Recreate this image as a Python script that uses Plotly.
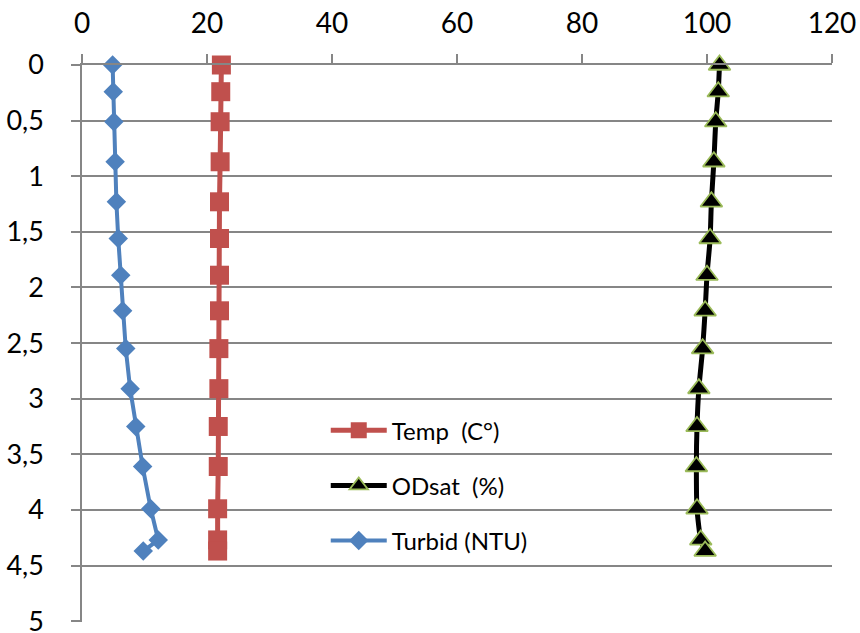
import plotly.graph_objects as go

depth = [0, 0.24, 0.51, 0.87, 1.23, 1.56, 1.89, 2.21, 2.55, 2.91, 3.25, 3.61, 3.99, 4.27, 4.37]
temp = [22.3, 22.2, 22.1, 22.1, 22.0, 22.0, 22.0, 22.0, 21.9, 21.9, 21.8, 21.8, 21.7, 21.7, 21.7]
odsat = [102.0, 101.8, 101.4, 101.1, 100.7, 100.5, 100.0, 99.7, 99.3, 98.7, 98.4, 98.3, 98.4, 99.0, 99.7]
turbid = [4.9, 5.0, 5.1, 5.3, 5.5, 5.8, 6.2, 6.5, 7.0, 7.7, 8.6, 9.7, 11.0, 12.2, 9.8]

names = ["Temp\u00a0 (C°)", "ODsat\u00a0 (%)", "Turbid (NTU)"]
y_tickvals = [0, 0.5, 1, 1.5, 2, 2.5, 3, 3.5, 4, 4.5, 5]
y_ticktext = ["0", "0,5", "1", "1,5", "2", "2,5", "3", "3,5", "4", "4,5", "5"]
x_tickvals = [0, 20, 40, 60, 80, 100, 120]

RED = "#C0504D"
BLUE = "#4F81BD"
GREEN = "#9BBB59"
GRID = "#868686"
FONT = "Lato, Open Sans, sans-serif"

fig = go.Figure()
fig.add_trace(go.Scatter(
    x=temp, y=depth, name=names[0], mode="lines+markers", legendgroup="a",
    line=dict(color=RED, width=5), cliponaxis=False,
    marker=dict(symbol="square", size=19, color=RED),
))
fig.add_trace(go.Scatter(
    x=odsat, y=depth, name=names[1], mode="lines+markers", legendgroup="b",
    line=dict(color="black", width=5, shape="spline", smoothing=0.6), cliponaxis=False,
    marker=dict(symbol="triangle-up", size=19, color="black", line=dict(color=GREEN, width=1.8)),
))
fig.add_trace(go.Scatter(
    x=turbid, y=depth, name=names[2], mode="lines+markers", legendgroup="c",
    line=dict(color=BLUE, width=4), cliponaxis=False,
    marker=dict(symbol="diamond", size=15, color=BLUE),
))

# white box behind the legend (covers gridlines only)
fig.add_shape(type="rect", xref="paper", yref="paper",
              x0=0.251, x1=0.683, y0=0.085, y1=0.39,
              fillcolor="white", line=dict(width=0), layer="between")

fig.update_layout(
    width=860, height=633,
    margin=dict(l=82, r=28, t=65, b=11, autoexpand=False),
    paper_bgcolor="white", plot_bgcolor="white",
    font=dict(family=FONT, color="black"),
    showlegend=True,
    legend=dict(
        x=0.325, y=0.384, xanchor="left", yanchor="top",
        bgcolor="rgba(0,0,0,0)", font=dict(size=24, family=FONT),
        tracegroupgap=21, itemwidth=56, traceorder="grouped",
    ),
    xaxis=dict(
        range=[0, 120], side="top", tickvals=x_tickvals, automargin=False,
        showgrid=False, zeroline=False, ticklabeloverflow="allow",
        showline=True, linecolor=GRID, linewidth=1.5,
        ticks="outside", ticklen=9, tickcolor=GRID, tickwidth=1.5,
        tickfont=dict(size=28, family=FONT), ticklabelstandoff=10,
    ),
    yaxis=dict(
        range=[5.008, 0], tickvals=y_tickvals, ticktext=y_ticktext, automargin=False,
        showgrid=True, gridcolor=GRID, gridwidth=1.5, zeroline=False,
        ticklabeloverflow="allow",
        showline=True, linecolor=GRID, linewidth=1.5,
        ticks="outside", ticklen=9, tickcolor=GRID, tickwidth=1.5,
        tickfont=dict(size=27, family=FONT), ticklabelstandoff=22,
    ),
)

fig.write_html("out.html", config={"displayModeBar": False},
               post_script="document.body.style.margin='0px';")
